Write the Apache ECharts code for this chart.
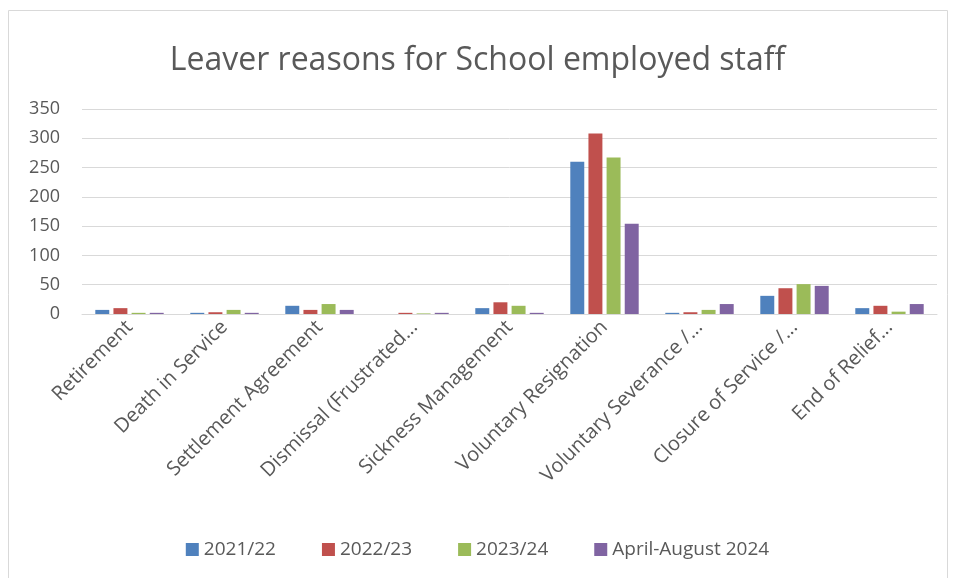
<!DOCTYPE html>
<html><head><meta charset="utf-8">
<script src="https://cdn.jsdelivr.net/npm/echarts@6/dist/echarts.min.js"></script>
<style>html,body{margin:0;padding:0;background:#fff}#c{width:955px;height:578px}</style>
</head><body><div id="c"></div>
<script>
const categories = ["Retirement","Death in Service","Settlement Agreement","Dismissal (Frustrated...","Sickness Management","Voluntary Resignation","Voluntary Severance /...","Closure of Service /...","End of Relief..."];
const seriesNames = ["2021/22","2022/23","2023/24","April-August 2024"];
const s2122 = [7, 2, 14, 0, 10, 260, 2, 31, 10];
const s2223 = [10, 3, 7, 2, 20, 308, 3, 44, 14];
const s2324 = [2, 7, 17, 1, 14, 267, 7, 51, 4];
const sApr24 = [2, 2, 7, 2, 2, 154, 17, 48, 17];
const yTicks = [0, 50, 100, 150, 200, 250, 300, 350];
const colors = ["#4f81bd","#c0504d","#9bbb59","#8064a2"];
const font = "Open Sans";
const chart = echarts.init(document.getElementById('c'));
const data = [s2122, s2223, s2324, sApr24];
chart.setOption({
  animation:false,
  graphic:[{type:'rect',shape:{x:8.5,y:10.5,width:939,height:600},style:{fill:'none',stroke:'#d9d9d9',lineWidth:1}}],
  title:{text:"Leaver reasons for School employed staff",left:'center',top:40,textStyle:{fontFamily:font,fontSize:32,fontWeight:'normal',color:'#595959'}},
  legend:{bottom:14,left:'center',itemWidth:13,itemHeight:13,itemGap:46,icon:'rect',textStyle:{fontFamily:font,fontSize:19,color:'#595959'},data:seriesNames},
  grid:{left:82,right:18,top:109,bottom:264,containLabel:false},
  xAxis:{type:'category',data:categories,axisTick:{show:false},axisLine:{lineStyle:{color:'#d9d9d9',width:1}},
    axisLabel:{rotate:45,interval:0,fontFamily:font,fontSize:20,color:'#595959',margin:10}},
  yAxis:{type:'value',min:yTicks[0],max:yTicks[yTicks.length-1],interval:50,
    axisLabel:{fontFamily:font,fontSize:18,color:'#595959',margin:22}},
  series: seriesNames.map((n,i)=>({name:n,type:'bar',data:data[i],itemStyle:{color:colors[i]},barGap:'30%',barCategoryGap:'28%'}))
});
chart.setOption({yAxis:{splitLine:{lineStyle:{color:'#d9d9d9',width:1}},axisLine:{show:false},axisTick:{show:false}}});
</script></body></html>
